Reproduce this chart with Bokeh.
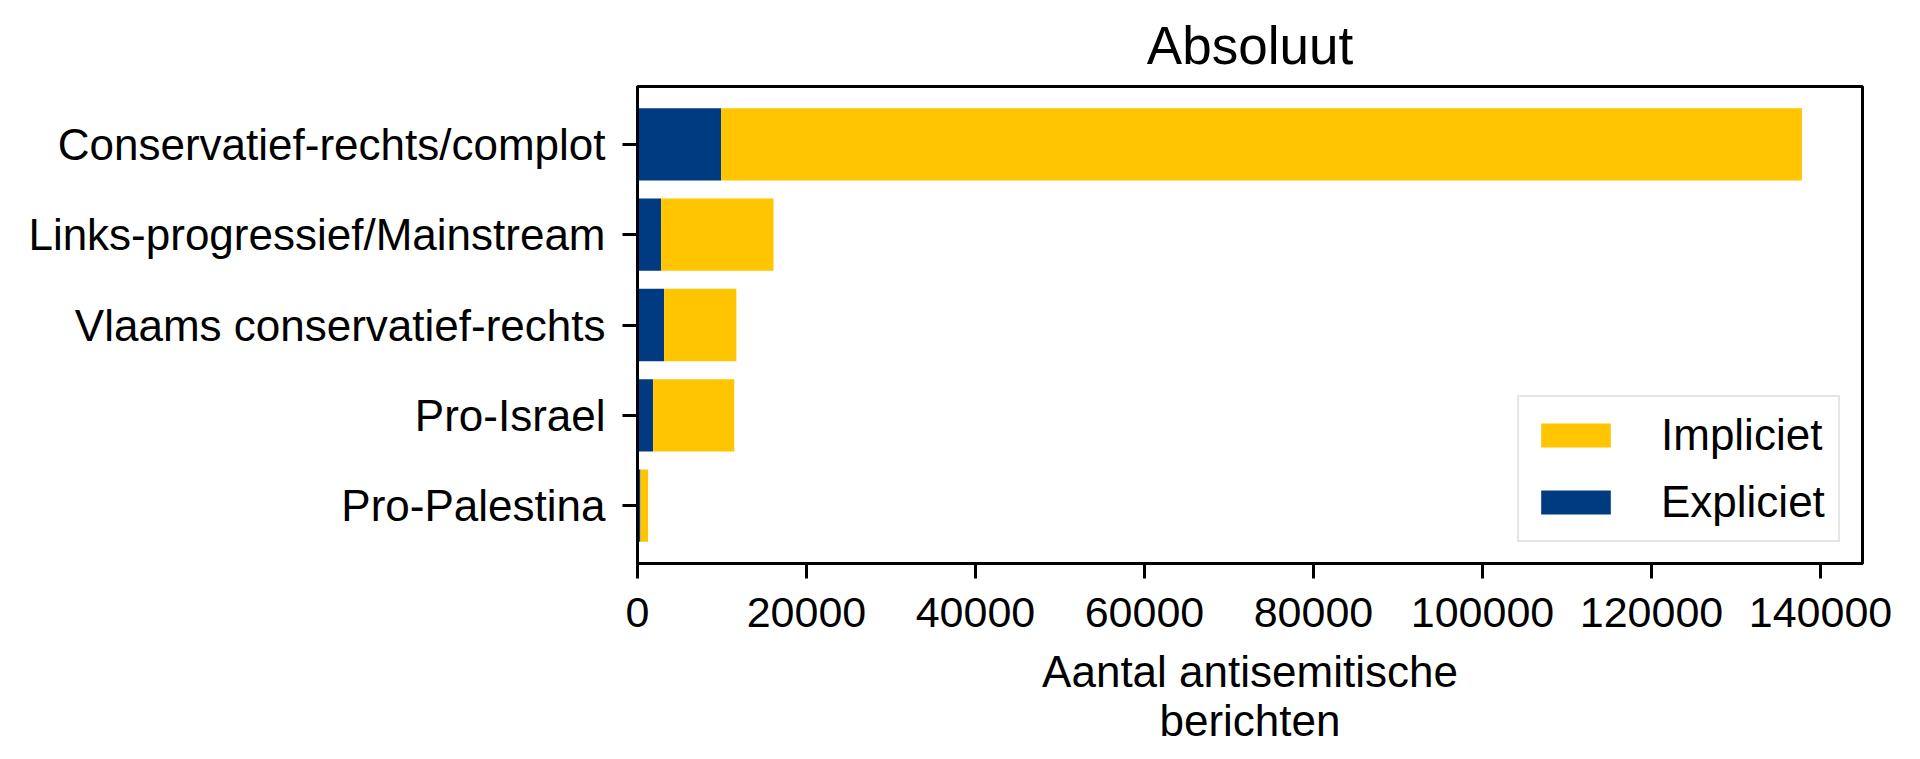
from bokeh.plotting import figure
from bokeh.models import (ColumnDataSource, FactorRange, Range1d, FixedTicker,
                          NumeralTickFormatter, Legend, LegendItem)
from bokeh.embed import file_html
from bokeh.resources import INLINE

# ---- data ----
categories = ["Conservatief-rechts/complot", "Links-progressief/Mainstream",
              "Vlaams conservatief-rechts", "Pro-Israel", "Pro-Palestina"]
expliciet = [9900, 2800, 3150, 1850, 350]
impliciet = [127900, 13300, 8550, 9600, 900]
x_ticks = [0, 20000, 40000, 60000, 80000, 100000, 120000, 140000]
series_labels = ["Impliciet", "Expliciet"]
title_text = "Absoluut"
x_label = "Aantal antisemitische\nberichten"

YELLOW = "#FFC500"
BLUE = "#003A80"
FONT = "Liberation Sans"

src = ColumnDataSource(dict(cat=categories, Expliciet=expliciet, Impliciet=impliciet))

p = figure(frame_width=1225, frame_height=477,
           min_border_left=637, min_border_right=50,
           min_border_top=86, min_border_bottom=150,
           output_backend="svg", toolbar_location=None,
           y_range=FactorRange(factors=categories[::-1], range_padding=0.056),
           x_range=Range1d(0, 144970))

rs = p.hbar_stack(["Expliciet", "Impliciet"], y="cat", height=0.8,
                  fill_color=[BLUE, YELLOW], line_color=None, source=src)

# title
p.title.text = title_text
p.title.align = "center"
p.title.text_font = FONT
p.title.text_font_size = "53px"
p.title.text_font_style = "normal"
p.title.text_color = "#000000"
p.title.standoff = 24

# frame
p.outline_line_color = "#000000"
p.outline_line_width = 3
p.outline_line_alpha = 1
p.xgrid.visible = False
p.ygrid.visible = False

for ax in (p.xaxis[0], p.yaxis[0]):
    ax.axis_line_width = 3
    ax.axis_line_color = "#000000"
    ax.major_tick_line_width = 3
    ax.major_tick_line_color = "#000000"
    ax.major_tick_out = 15
    ax.major_tick_in = 0
    ax.minor_tick_line_color = None
    ax.major_label_text_font = FONT
    ax.major_label_text_color = "#000000"

p.xaxis.major_label_standoff = 19
p.yaxis.major_label_standoff = 17
p.xaxis.ticker = FixedTicker(ticks=x_ticks)
p.xaxis.formatter = NumeralTickFormatter(format="0")
p.xaxis.major_label_text_font_size = "43px"
p.yaxis.major_label_text_font_size = "44px"
p.xaxis.axis_label = x_label
p.xaxis.axis_label_text_font = FONT
p.xaxis.axis_label_text_font_size = "44px"
p.xaxis.axis_label_text_font_style = "normal"
p.xaxis.axis_label_text_color = "#000000"
p.xaxis.axis_label_text_line_height = 1.0
p.xaxis.axis_label_standoff = 17

legend = Legend(items=[LegendItem(label=series_labels[0], renderers=[rs[1]]),
                       LegendItem(label=series_labels[1], renderers=[rs[0]])],
                location=(880, 21))
legend.label_text_font = FONT
legend.label_text_font_size = "44px"
legend.label_text_color = "#000000"
legend.glyph_width = 87
legend.glyph_height = 30
legend.label_height = 46
legend.label_standoff = 42
legend.padding = 13
legend.spacing = 17
legend.margin = 0
legend.border_line_color = "#cccccc"
legend.border_line_width = 2
legend.background_fill_alpha = 0.8
p.add_layout(legend)

open("out.html", "w").write(file_html(p, INLINE))
